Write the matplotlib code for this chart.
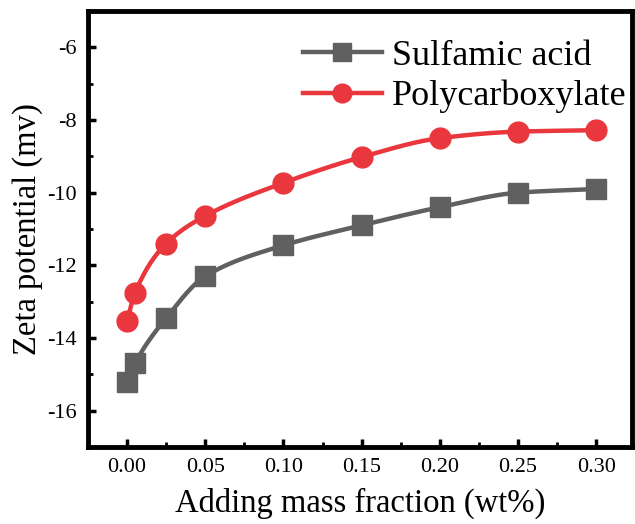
import numpy as np
import matplotlib
matplotlib.use('Agg')
import matplotlib.pyplot as plt
from matplotlib.ticker import MultipleLocator

# Data
mass_fraction = [0.0, 0.005, 0.025, 0.05, 0.10, 0.15, 0.20, 0.25, 0.30]
sulfamic_zeta = [-15.2, -14.7, -13.45, -12.3, -11.45, -10.9, -10.4, -10.0, -9.9]
polycarb_zeta = [-13.53, -12.76, -11.4, -10.64, -9.73, -9.02, -8.5, -8.32, -8.28]


def pchip_curve(x, y, n=400):
    # monotone smooth curve through the measured points (no overshoot)
    x = np.asarray(x, float)
    y = np.asarray(y, float)
    h = np.diff(x)
    d = np.diff(y) / h
    m = np.zeros_like(y)
    for k in range(1, len(x) - 1):
        if d[k - 1] * d[k] > 0:
            w1 = 2 * h[k] + h[k - 1]
            w2 = h[k] + 2 * h[k - 1]
            m[k] = (w1 + w2) / (w1 / d[k - 1] + w2 / d[k])
    m[0] = d[0]
    m[-1] = d[-1]
    xs = np.linspace(x[0], x[-1], n)
    i = np.clip(np.searchsorted(x, xs) - 1, 0, len(x) - 2)
    t = (xs - x[i]) / h[i]
    h00 = 2 * t ** 3 - 3 * t ** 2 + 1
    h10 = t ** 3 - 2 * t ** 2 + t
    h01 = -2 * t ** 3 + 3 * t ** 2
    h11 = t ** 3 - t ** 2
    ys = h00 * y[i] + h10 * h[i] * m[i] + h01 * y[i + 1] + h11 * h[i] * m[i + 1]
    return xs, ys


plt.rcParams['font.family'] = 'Liberation Serif'
plt.rcParams['axes.unicode_minus'] = False

fig = plt.figure(figsize=(6.35, 5.24), dpi=100)
ax = fig.add_axes([0.1386, 0.147, 0.857, 0.832])

gray = '#606060'
red = '#ea363d'

xs, ys = pchip_curve(mass_fraction, sulfamic_zeta)
ax.plot(xs, ys, color=gray, lw=3.2)
ax.plot(mass_fraction, sulfamic_zeta, ls='none', marker='s', ms=14.5, color=gray)
xs, ys = pchip_curve(mass_fraction, polycarb_zeta)
ax.plot(xs, ys, color=red, lw=3.2)
ax.plot(mass_fraction, polycarb_zeta, ls='none', marker='o', ms=15, color=red)

# legend handles
ax.plot([], [], color=gray, lw=3.2, marker='s', ms=12.5, label='Sulfamic acid')
ax.plot([], [], color=red, lw=3.2, marker='o', ms=13.5, label='Polycarboxylate')
handles, labels = ax.get_legend_handles_labels()
ax.legend(handles, labels, loc='upper right', frameon=False, fontsize=26,
          handlelength=2.2, handletextpad=0.28, labelspacing=0.2,
          borderaxespad=0.0, borderpad=0.0, bbox_to_anchor=(0.99, 0.935))

ax.set_xlim(-0.025, 0.323)
ax.set_ylim(-17, -5)
ax.set_xticks([0.0, 0.05, 0.10, 0.15, 0.20, 0.25, 0.30])
ax.set_xticklabels(['0.00', '0.05', '0.10', '0.15', '0.20', '0.25', '0.30'])
ax.set_yticks([-16, -14, -12, -10, -8, -6])
ax.xaxis.set_minor_locator(MultipleLocator(0.025))
ax.yaxis.set_minor_locator(MultipleLocator(1))
ax.tick_params(which='major', direction='in', length=6, width=2.5, labelsize=16, pad=8)
ax.tick_params(which='minor', direction='in', length=3.5, width=2)
for s in ax.spines.values():
    s.set_linewidth(3.5)

ax.set_xlabel('Adding mass fraction (wt%)', fontsize=23.5, labelpad=8)
ax.set_ylabel('Zeta potential (mv)', fontsize=23.5, labelpad=3)

fig.savefig('out.png', dpi=100)
